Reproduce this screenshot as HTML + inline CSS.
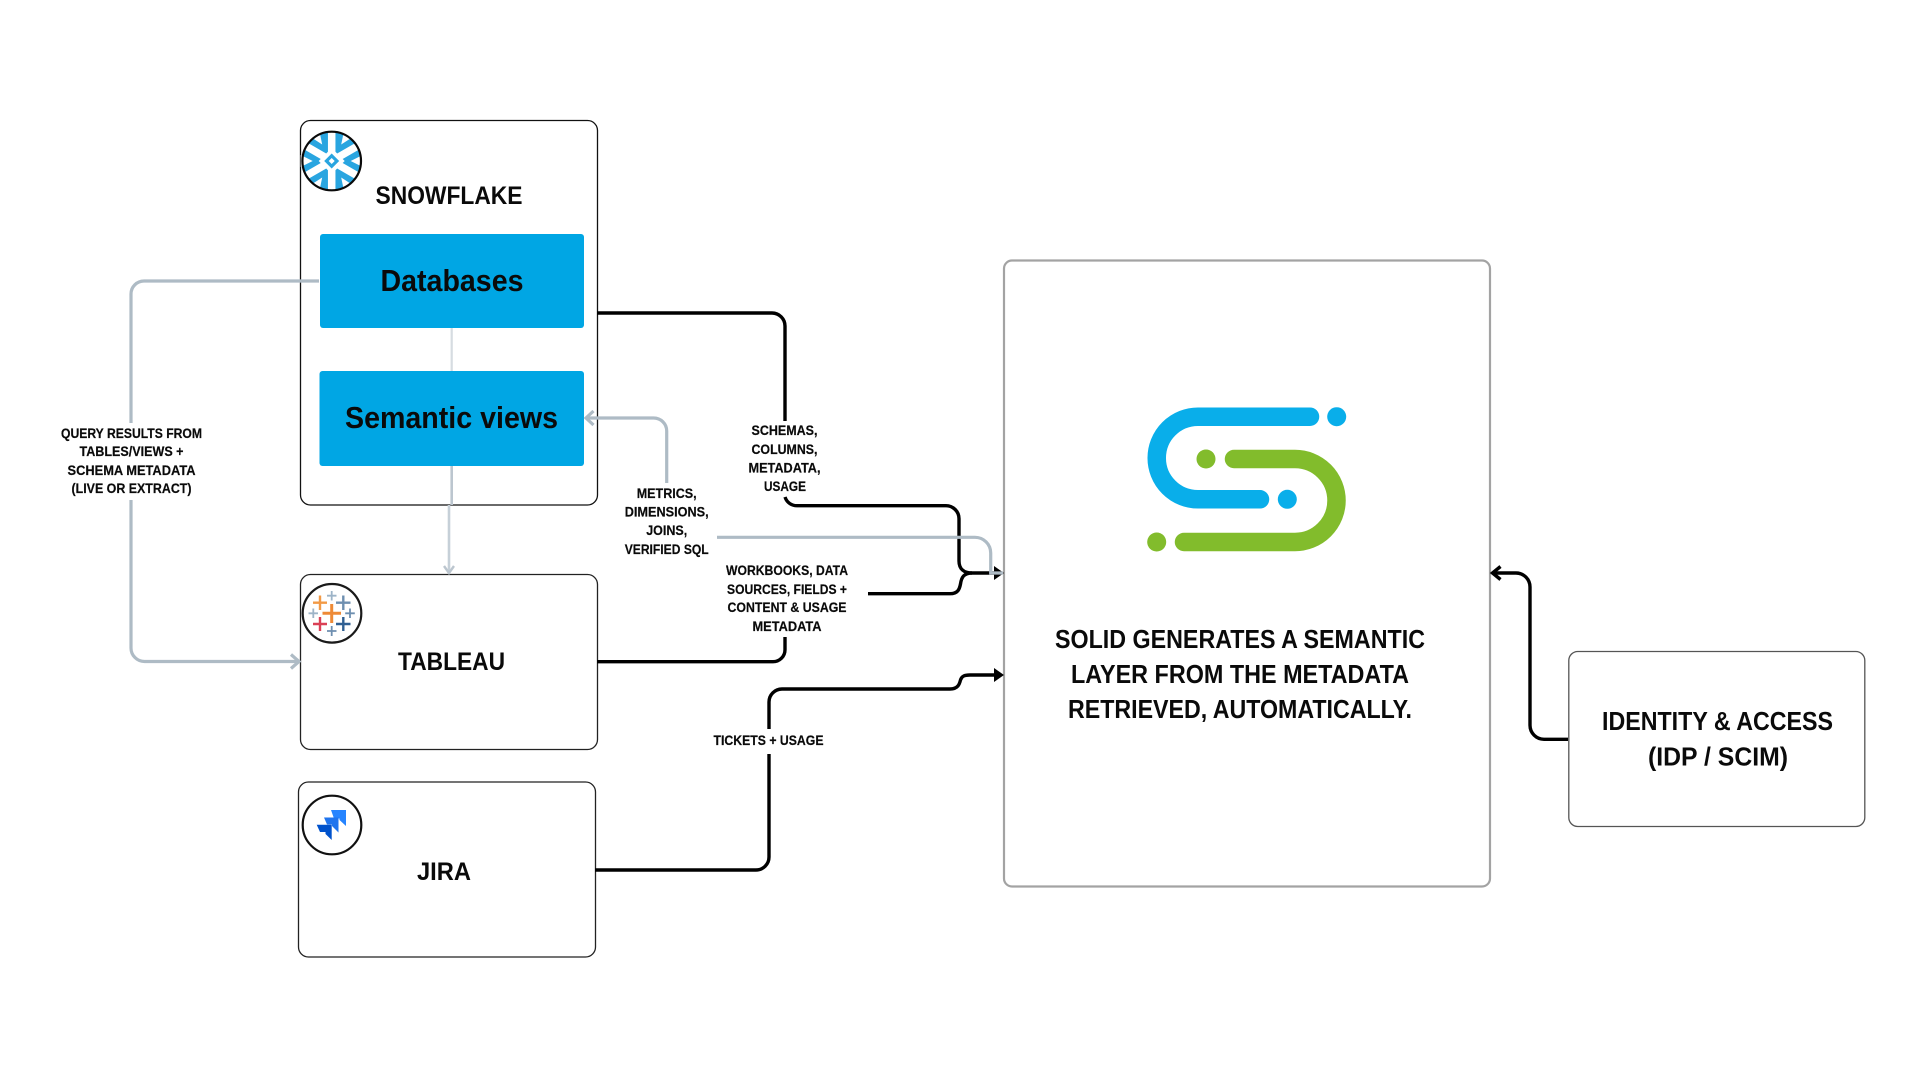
<!DOCTYPE html>
<html>
<head>
<meta charset="utf-8">
<style>
html,body{margin:0;padding:0;background:#fff;width:1920px;height:1080px;overflow:hidden}
svg{display:block}
text{font-family:"Liberation Sans",sans-serif;font-weight:700;fill:#0a0a0a;text-anchor:middle}
.l{font-size:13.5px;stroke:#0a0a0a;stroke-width:.2px}
.t{font-size:25px}
.m{font-size:26px}
.c{fill:none;stroke-linecap:butt}
.k{stroke:#000;stroke-width:3.4}
.g{stroke:#aebbc5;stroke-width:3.2}
</style>
</head>
<body>
<svg width="1920" height="1080" viewBox="0 0 1920 1080" xmlns="http://www.w3.org/2000/svg">
<rect width="1920" height="1080" fill="#fff"/>

<!-- boxes -->
<rect x="300.5" y="120.5" width="297" height="384.5" rx="10" fill="#fff" stroke="#111" stroke-width="1.3"/>
<rect x="300.5" y="574.5" width="297" height="175" rx="10" fill="#fff" stroke="#222" stroke-width="1.3"/>
<rect x="298.5" y="782" width="297" height="175" rx="10" fill="#fff" stroke="#222" stroke-width="1.3"/>
<rect x="1004" y="260.5" width="486" height="626" rx="8" fill="#fff" stroke="#a3a3a3" stroke-width="2.2"/>
<rect x="1568.8" y="651.5" width="296" height="175" rx="9" fill="#fff" stroke="#555" stroke-width="1.3"/>

<rect x="320" y="234" width="264" height="94" rx="3" fill="#00a6e4"/>
<rect x="319.5" y="371" width="264.5" height="95" rx="3" fill="#00a6e4"/>

<!-- black connectors -->
<path class="c k" d="M597 313H772A13 13 0 0 1 785 326V421"/>
<path class="c k" d="M785 497C787 503 792 505.7 797 505.7H946A13 13 0 0 1 959 518.7V561C959 569 964 573 972 573H996"/>
<path class="c k" d="M868 593.7H950C958 593.7 959.5 589 960.5 584C961.5 577 964 573 972 573"/>
<path class="c k" d="M597 661.7H773A12 12 0 0 0 785 649.7V637"/>
<path class="c k" d="M595 870H756A13 13 0 0 0 769 857V754"/>
<path class="c k" d="M769 729V702A13 13 0 0 1 782 689H950C958 689 959.5 684 960.5 680C961.5 676.5 964 675 970 675H996"/>
<path d="M994 566L1004 573L994 580Z" fill="#000"/>
<path d="M994 668L1004 675L994 682Z" fill="#000"/>
<path class="c k" d="M1568 739.3H1544A14 14 0 0 1 1530 725.3V587A14 14 0 0 0 1516 573H1493"/>
<path class="c k" d="M1500.5 566.5L1492.5 573L1500.5 579.5"/>

<!-- grey connectors -->
<path class="c" d="M451.7 328V371" stroke="#d6dce1" stroke-width="2.2"/>
<path class="c" d="M451.7 466V505" stroke="#bcc6cf" stroke-width="2.6"/>
<path class="c" d="M449 505V572" stroke="#c6d0d8" stroke-width="2.6"/>
<path class="c" d="M444 566L449 573L454 566" stroke="#bcc6cf" stroke-width="2.4"/>
<path class="c g" d="M319 281H144A13 13 0 0 0 131 294V423"/>
<path class="c g" d="M131 500V648A13.5 13.5 0 0 0 144.5 661.5H298"/>
<path class="c g" d="M291 654.5L299 661.5L291 668.5"/>
<path class="c g" d="M666.7 483V431A13 13 0 0 0 653.7 418H586"/>
<path class="c g" d="M593.5 411L586 418L593.5 425"/>
<path class="c g" d="M717 537.3H975A15.7 15.7 0 0 1 990.7 553V573H1003"/>

<!-- icon circles -->
<circle cx="331.7" cy="161" r="29" fill="#29a5e0"/>
<g stroke="#fff" stroke-width="7.5" fill="none">
<path d="M331.7 132V190M306.6 146.5L356.8 175.5M306.6 175.5L356.8 146.5"/>
</g>
<g fill="#fff">
<path id="n" d="M331.7 161m19 0l12 -6v12z"/>
<path d="M331.7 161m-19 0l-12 -6v12z"/>
<path d="M341.2 144.5L344 131L353.5 136.5Z"/>
<path d="M322.2 144.5L319.4 131L309.9 136.5Z"/>
<path d="M341.2 177.5L344 191L353.5 185.5Z"/>
<path d="M322.2 177.5L319.4 191L309.9 185.5Z"/>
</g>
<path d="M331.7 148L344.7 161L331.7 174L318.7 161Z" fill="#fff"/>
<path d="M331.7 153.5L339.2 161L331.7 168.5L324.2 161Z" fill="#29a5e0"/>
<path d="M331.7 158L334.7 161L331.7 164L328.7 161Z" fill="#fff"/>
<circle cx="331.7" cy="161" r="29.3" fill="none" stroke="#0a0a0a" stroke-width="2.2"/>

<circle cx="332" cy="613.3" r="29.3" fill="#fff" stroke="#1a1a1a" stroke-width="2.2"/>
<g fill="none" stroke-width="2.4">
<path d="M331.7 604V623M322.5 613.3H341" stroke="#ee8a36" stroke-width="3"/>
<path d="M320 595.5V610M313 602.7H327" stroke="#f29a46"/>
<path d="M343.3 595.5V610M336 602.7H350.5" stroke="#6e8fb0"/>
<path d="M320 617V631M313 624H327" stroke="#da4055"/>
<path d="M343.3 617V631M336 624H350.5" stroke="#2f5f92"/>
<path d="M331.7 591V600.5M327 595.7H336.5" stroke="#9db4c8" stroke-width="1.8"/>
<path d="M313.3 608.5V618M308.5 613.3H318" stroke="#9db4c8" stroke-width="1.8"/>
<path d="M350 608.5V618M345.2 613.3H354.8" stroke="#6e8fb0" stroke-width="1.8"/>
<path d="M331.7 626V636M327 631H336.5" stroke="#6e8fb0" stroke-width="1.8"/>
</g>

<circle cx="332" cy="825" r="29.3" fill="#fff" stroke="#111" stroke-width="2.2"/>
<path d="M331 810H346V826L339.500 820V818.500H334Z" fill="#2684ff"/>
<path d="M324 817.500H338.500V832.500L332 826V824.500H327Z" fill="#1f74ee"/>
<path d="M316.700 824.700H331.700V840L325.500 834V832H320Z" fill="#0052cc"/>

<!-- logo -->
<path d="M1310 416.700H1198A41.300 41.300 0 0 0 1198 499.300H1260" fill="none" stroke="#09aeea" stroke-width="18.500" stroke-linecap="round"/>
<path d="M1234 459H1295A41.500 41.500 0 0 1 1295 542H1184" fill="none" stroke="#82bc2c" stroke-width="18.500" stroke-linecap="round"/>
<circle cx="1336.700" cy="416.700" r="9.500" fill="#09aeea"/>
<circle cx="1287.300" cy="499.300" r="9.500" fill="#09aeea"/>
<circle cx="1206" cy="459" r="9.500" fill="#82bc2c"/>
<circle cx="1156.700" cy="542" r="9.500" fill="#82bc2c"/>

<!-- titles -->
<text class="t" x="449" y="204" textLength="147" lengthAdjust="spacingAndGlyphs">SNOWFLAKE</text>
<text x="452" y="291" font-size="31" textLength="143" lengthAdjust="spacingAndGlyphs">Databases</text>
<text x="451.500" y="428" font-size="31" textLength="213" lengthAdjust="spacingAndGlyphs">Semantic views</text>
<text class="t" x="451.500" y="670" textLength="107" lengthAdjust="spacingAndGlyphs">TABLEAU</text>
<text class="t" x="444" y="880" textLength="54" lengthAdjust="spacingAndGlyphs">JIRA</text>

<text class="m" x="1240" y="648" textLength="370" lengthAdjust="spacingAndGlyphs">SOLID GENERATES A SEMANTIC</text>
<text class="m" x="1240" y="683" textLength="338" lengthAdjust="spacingAndGlyphs">LAYER FROM THE METADATA</text>
<text class="m" x="1240" y="718" textLength="344" lengthAdjust="spacingAndGlyphs">RETRIEVED, AUTOMATICALLY.</text>

<text class="m" x="1717.500" y="730" textLength="231" lengthAdjust="spacingAndGlyphs">IDENTITY &amp; ACCESS</text>
<text class="m" x="1718" y="765.500" textLength="140" lengthAdjust="spacingAndGlyphs">(IDP / SCIM)</text>

<!-- labels -->
<text class="l" x="131.500" y="438" textLength="141" lengthAdjust="spacingAndGlyphs">QUERY RESULTS FROM</text>
<text class="l" x="131.500" y="456" textLength="104" lengthAdjust="spacingAndGlyphs">TABLES/VIEWS +</text>
<text class="l" x="131.500" y="475" textLength="128" lengthAdjust="spacingAndGlyphs">SCHEMA METADATA</text>
<text class="l" x="131.500" y="493" textLength="120" lengthAdjust="spacingAndGlyphs">(LIVE OR EXTRACT)</text>

<text class="l" x="784.500" y="435" textLength="66" lengthAdjust="spacingAndGlyphs">SCHEMAS,</text>
<text class="l" x="784.500" y="454" textLength="66" lengthAdjust="spacingAndGlyphs">COLUMNS,</text>
<text class="l" x="784.500" y="472.500" textLength="72" lengthAdjust="spacingAndGlyphs">METADATA,</text>
<text class="l" x="785" y="491" textLength="42" lengthAdjust="spacingAndGlyphs">USAGE</text>

<text class="l" x="666.700" y="498" textLength="60" lengthAdjust="spacingAndGlyphs">METRICS,</text>
<text class="l" x="666.700" y="516.500" textLength="84" lengthAdjust="spacingAndGlyphs">DIMENSIONS,</text>
<text class="l" x="666.700" y="535" textLength="41" lengthAdjust="spacingAndGlyphs">JOINS,</text>
<text class="l" x="666.700" y="554" textLength="84" lengthAdjust="spacingAndGlyphs">VERIFIED SQL</text>

<text class="l" x="787" y="575" textLength="122" lengthAdjust="spacingAndGlyphs">WORKBOOKS, DATA</text>
<text class="l" x="787" y="594" textLength="120" lengthAdjust="spacingAndGlyphs">SOURCES, FIELDS +</text>
<text class="l" x="787" y="612" textLength="119" lengthAdjust="spacingAndGlyphs">CONTENT &amp; USAGE</text>
<text class="l" x="787" y="631" textLength="69" lengthAdjust="spacingAndGlyphs">METADATA</text>

<text class="l" x="768.500" y="745" textLength="110" lengthAdjust="spacingAndGlyphs">TICKETS + USAGE</text>
</svg>
</body>
</html>
